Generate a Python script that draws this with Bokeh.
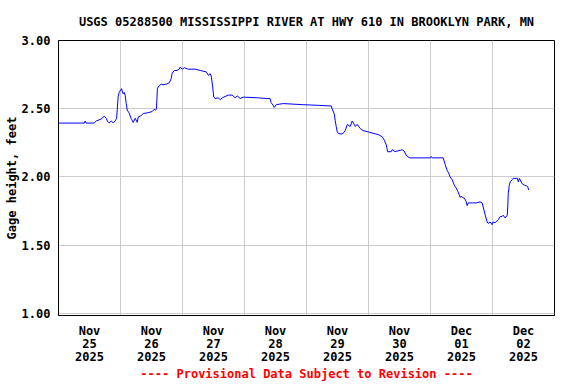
import pandas as pd
from bokeh.plotting import figure
from bokeh.models import Range1d, FixedTicker, DatetimeTickFormatter, NumeralTickFormatter
from bokeh.embed import file_html
from bokeh.resources import INLINE

# hours since 2025-11-25 00:00
hours = [0.0, 10.0, 10.3, 10.7, 13.8, 14.6, 16.5, 17.7, 18.5, 18.9, 19.6, 20.4, 21.2, 21.9, 22.5,
         23.1, 23.5, 24.4, 25.0, 25.4, 25.8, 26.2, 26.6, 27.3, 28.1, 28.9, 29.7, 30.5, 30.9, 32.0,
         32.8, 34.4, 35.5, 36.3, 37.0, 37.6, 37.9, 38.3, 39.0, 39.8, 40.5, 41.7, 42.9, 43.6, 44.0,
         44.8, 45.9, 46.7, 47.1, 47.9, 48.7, 50.2, 52.9, 54.9, 57.2, 58.0, 58.7, 59.1, 59.7, 60.1,
         60.7, 61.8, 62.6, 63.4, 65.7, 67.2, 68.4, 69.2, 70.3, 71.5, 77.3, 80.4, 81.9, 82.3, 83.1,
         83.5, 84.3, 87.0, 94.3, 100.5, 105.6, 105.9, 106.7, 107.1, 107.5, 107.9, 108.3, 109.4, 110.2,
         111.0, 111.8, 112.9, 113.7, 114.9, 115.6, 116.8, 117.9, 119.9, 121.8, 123.8, 125.3, 126.1,
         126.9, 127.4, 128.8, 129.2, 130.3, 131.1, 132.3, 133.0, 133.8, 134.6, 135.0, 136.1, 143.9,
         144.3, 144.6, 148.9, 149.7, 150.4, 151.0, 151.6, 152.4, 153.2, 153.9, 154.7, 155.1, 155.5,
         155.9, 156.3, 157.1, 157.8, 158.2, 158.6, 160.2, 161.7, 163.2, 164.0, 164.4, 165.2, 165.9,
         166.3, 167.1, 167.9, 168.2, 169.0, 170.2, 171.0, 171.7, 172.1, 172.9, 173.7, 173.9, 174.1,
         174.5, 174.9, 175.6, 176.0, 177.6, 178.0, 178.4, 179.5, 180.3, 181.1, 181.6, 182.0]
gage = [2.395, 2.395, 2.41, 2.395, 2.395, 2.41, 2.425, 2.445, 2.43, 2.41, 2.396, 2.41, 2.396, 2.41, 2.43,
        2.59, 2.62, 2.647, 2.61, 2.62, 2.60, 2.54, 2.49, 2.47, 2.43, 2.40, 2.43, 2.40, 2.44, 2.45,
        2.465, 2.47, 2.475, 2.48, 2.495, 2.49, 2.50, 2.65, 2.67, 2.68, 2.675, 2.68, 2.69, 2.72, 2.76,
        2.78, 2.78, 2.79, 2.805, 2.79, 2.80, 2.79, 2.79, 2.78, 2.77, 2.745, 2.757, 2.74, 2.66, 2.585,
        2.575, 2.58, 2.567, 2.58, 2.60, 2.60, 2.58, 2.594, 2.575, 2.585, 2.58, 2.575, 2.575, 2.545, 2.525,
        2.51, 2.53, 2.538, 2.53, 2.525, 2.52, 2.50, 2.465, 2.416, 2.37, 2.33, 2.32, 2.314, 2.32,
        2.34, 2.385, 2.37, 2.41, 2.37, 2.385, 2.355, 2.34, 2.33, 2.32, 2.31, 2.295, 2.27,
        2.235, 2.185, 2.185, 2.20, 2.185, 2.19, 2.195, 2.20, 2.19, 2.16, 2.15, 2.14, 2.14,
        2.15, 2.14, 2.14, 2.09, 2.05, 2.03, 2.00, 1.98, 1.94, 1.92, 1.89, 1.87, 1.85,
        1.86, 1.85, 1.845, 1.82, 1.79, 1.81, 1.81, 1.81, 1.817, 1.81, 1.78, 1.72, 1.67,
        1.66, 1.67, 1.65, 1.67, 1.665, 1.686, 1.71, 1.71, 1.72, 1.70, 1.72, 1.78, 1.88,
        1.94, 1.965, 1.98, 1.99, 1.99, 1.965, 1.99, 1.95, 1.94, 1.935, 1.93, 1.905]

start = pd.Timestamp("2025-11-25 00:00")
end = start + pd.Timedelta(days=8)
times = start + pd.to_timedelta(hours, unit="h")
day_labels = pd.date_range("2025-11-25 12:00", periods=8, freq="D")
midnights = pd.date_range("2025-11-25 00:00", periods=9, freq="D")
y_ticks = [1.0, 1.5, 2.0, 2.5, 3.0]
footer = "---- Provisional Data Subject to Revision ----"

FONT = "DejaVu Sans Mono"

p = figure(width=576, height=384, x_axis_type="datetime", output_backend="svg",
           toolbar_location=None,
           x_range=Range1d(start, end),
           y_range=Range1d(0.985, 3.0),
           min_border_left=58, min_border_right=22, min_border_top=40, min_border_bottom=68)

p.title.text = "USGS 05288500 MISSISSIPPI RIVER AT HWY 610 IN BROOKLYN PARK, MN"
p.title.align = "center"
p.title.text_font = FONT
p.title.text_font_size = "12px"
p.title.text_font_style = "bold"
p.title.text_color = "black"
p.title.standoff = 24
p.title.offset = 0

p.line(times, gage, line_color="#0000ff", line_width=1)

to_ms = lambda ts: [t.value // 10**6 for t in ts]
p.xaxis.ticker = FixedTicker(ticks=to_ms(day_labels))
fmt = "%b\n%d\n%Y"
p.xaxis.formatter = DatetimeTickFormatter(days=fmt, hours=fmt, hourmin=fmt, months=fmt,
                                          minutes=fmt, minsec=fmt, seconds=fmt, context=None)
p.xgrid.ticker = FixedTicker(ticks=to_ms(midnights))
p.yaxis.ticker = FixedTicker(ticks=y_ticks)
p.yaxis.formatter = NumeralTickFormatter(format="0.00")
p.ygrid.ticker = FixedTicker(ticks=y_ticks)

for ax in (p.xaxis, p.yaxis):
    ax.major_tick_out = 0
    ax.major_tick_in = 0
    ax.minor_tick_out = 0
    ax.minor_tick_in = 0
    ax.axis_line_color = "black"
    ax.major_label_text_font = FONT
    ax.major_label_text_font_size = "12px"
    ax.major_label_text_font_style = "bold"
    ax.major_label_text_color = "black"
    ax.major_label_standoff = 8
    ax.axis_label_text_font = FONT
    ax.axis_label_text_font_size = "12px"
    ax.axis_label_text_font_style = "bold"

p.xaxis.major_label_text_line_height = 0.96
p.xaxis.axis_label = footer
p.xaxis.axis_label_text_color = "red"
p.xaxis.axis_label_standoff = 0
p.yaxis.axis_label = "Gage height, feet"
p.yaxis.axis_label_text_color = "black"
p.yaxis.axis_label_standoff = 0

p.grid.grid_line_color = "#cccccc"
p.grid.grid_line_width = 1
p.outline_line_color = "black"
p.outline_line_alpha = 1.0
p.outline_line_width = 1

open("out.html", "w").write(file_html(p, INLINE))
